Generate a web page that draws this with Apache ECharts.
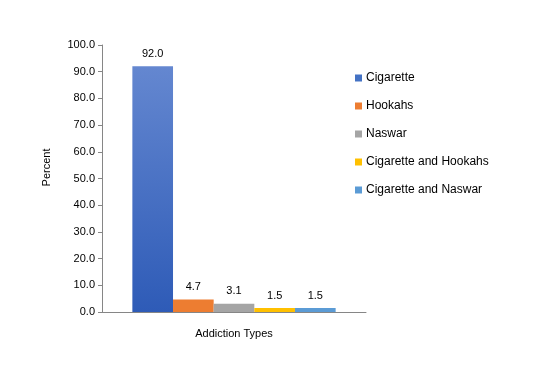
<!DOCTYPE html>
<html>
<head>
<meta charset="utf-8">
<script src="https://cdn.jsdelivr.net/npm/echarts@6/dist/echarts.min.js"></script>
<style>
  html, body { margin: 0; padding: 0; background: #fff; }
  #chart { width: 557px; height: 377px; }
</style>
</head>
<body>
<div id="chart"></div>
<script>
// data
const categories = ['Addiction Types']
const seriesNames = ['Cigarette', 'Hookahs', 'Naswar', 'Cigarette and Hookahs', 'Cigarette and Naswar']
const seriesValues = [92.0, 4.7, 3.1, 1.5, 1.5]
const yTicks = [0, 10, 20, 30, 40, 50, 60, 70, 80, 90, 100]

const colors = [
  new echarts.graphic.LinearGradient(0, 0, 0, 1, [
    { offset: 0, color: '#6487D0' },
    { offset: 1, color: '#2E5BB7' }
  ]),
  '#ED7D31', '#A5A5A5', '#FFC000', '#5B9BD5'
]
const legendColors = ['#4472C4', '#ED7D31', '#A5A5A5', '#FFC000', '#5B9BD5']

const font = 'Liberation Sans'
const chart = echarts.init(document.getElementById('chart'))

const series = seriesNames.map((name, i) => ({
  name: name,
  type: 'bar',
  data: [seriesValues[i]],
  barGap: '0%',
  barCategoryGap: '23%',
  itemStyle: { color: colors[i] },
  label: {
    show: true,
    position: 'top',
    distance: 7,
    color: '#000',
    fontFamily: font,
    fontSize: 11,
    formatter: p => p.value.toFixed(1)
  }
}))

chart.setOption({
  animation: false,
  grid: { left: 102, right: 191, top: 45, bottom: 65 },
  legend: {
    orient: 'vertical',
    left: 355,
    top: 72,
    padding: 0,
    itemWidth: 7,
    itemHeight: 7,
    itemGap: 16,
    icon: 'rect',
    textStyle: { color: '#000', fontFamily: font, fontSize: 12, padding: [0, 0, 0, -1] },
    data: seriesNames.map((n, i) => ({ name: n, itemStyle: { color: legendColors[i] } }))
  },
  xAxis: {
    type: 'category',
    data: categories,
    axisLine: { lineStyle: { color: '#868686' } },
    axisTick: { length: 4, lineStyle: { color: '#868686' } },
    axisLabel: { margin: 16, color: '#000', fontFamily: font, fontSize: 11 }
  },
  yAxis: {
    type: 'value',
    min: yTicks[0],
    max: yTicks[yTicks.length - 1],
    interval: 10,
    name: 'Percent',
    nameLocation: 'middle',
    nameGap: 50,
    nameTextStyle: { color: '#000', fontFamily: font, fontSize: 11, padding: [0, 0, 0, 22] },
    axisLine: { show: true, lineStyle: { color: '#868686' } },
    axisTick: { show: true, length: 4, lineStyle: { color: '#868686' } },
    splitLine: { show: false },
    axisLabel: {
      margin: 7,
      color: '#000',
      fontFamily: font,
      fontSize: 11,
      formatter: v => v.toFixed(1)
    }
  },
  series: series
})
</script>
</body>
</html>
